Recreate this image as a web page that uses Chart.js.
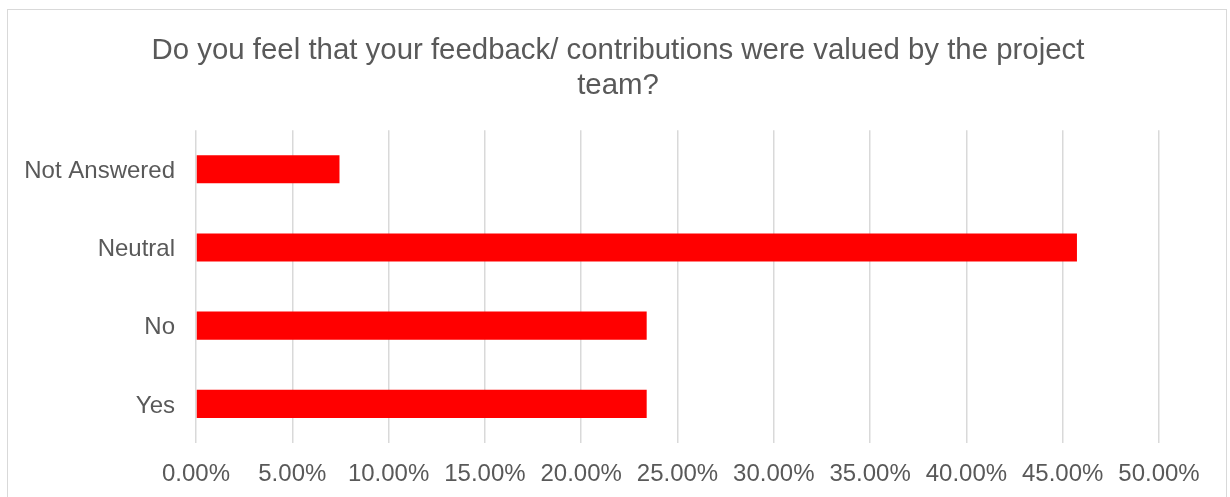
<!DOCTYPE html>
<html lang="en">
<head>
    <meta charset="UTF-8">
    <title>Feedback valued</title>
    <script src="https://cdn.jsdelivr.net/npm/chart.js@4.4.0/dist/chart.umd.min.js"></script>
    <style>
        body { margin: 0; background: #fff; }
        #wrap { position: relative; width: 1230px; height: 497px; }
        #frame {
            position: absolute; left: 7px; top: 9px; width: 1218px; height: 500px;
            border: 1.5px solid #d9d9d9; pointer-events: none;
        }
    </style>
</head>
<body>
    <div id="wrap">
        <canvas id="myChart" width="1230" height="497"></canvas>
        <div id="frame"></div>
    </div>

    <script>
        // chart data (Excel order: first category at the bottom)
        const categorias = ['Yes', 'No', 'Neutral', 'Not Answered'];
        const percentuais = [23.40, 23.40, 45.74, 7.45];
        const tituloLinhas = ['Do you feel that your feedback/ contributions were valued by the project', 'team?'];
        const xMin = 0, xMax = 50, xPasso = 5;

        const cinzaTexto = '#595959';
        const fonte = 'Liberation Sans, Arial, sans-serif';
        const ctx = document.getElementById('myChart').getContext('2d');

        new Chart(ctx, {
            type: 'bar',
            data: {
                labels: categorias,
                datasets: [{
                    data: percentuais,
                    backgroundColor: '#ff0000',
                    borderWidth: 0,
                    barPercentage: 0.45,
                    categoryPercentage: 0.8
                }]
            },
            options: {
                indexAxis: 'y',
                responsive: false,
                animation: false,
                layout: { padding: { left: 6, right: 0, top: 0, bottom: 0 } },
                plugins: {
                    legend: { display: false },
                    tooltip: { enabled: false },
                    title: {
                        display: true,
                        text: tituloLinhas,
                        color: cinzaTexto,
                        font: { family: fonte, size: 29.4, weight: 'normal', lineHeight: 1.2 },
                        padding: { top: 33, bottom: 26.6 }
                    }
                },
                scales: {
                    x: {
                        min: xMin,
                        max: xMax,
                        ticks: {
                            stepSize: xPasso,
                            color: cinzaTexto,
                            padding: 17,
                            font: { family: fonte, size: 24 },
                            callback: v => v.toFixed(2) + '%'
                        },
                        grid: { color: '#d9d9d9', lineWidth: 1.5, drawTicks: false },
                        border: { display: false },
                        afterFit: s => { s.height = 54; }
                    },
                    y: {
                        reverse: true,
                        ticks: {
                            color: cinzaTexto,
                            padding: 21,
                            labelOffset: 2,
                            font: { family: fonte, size: 24 }
                        },
                        grid: { display: false, drawTicks: false },
                        border: { display: false },
                        afterFit: s => { s.width = 190; }
                    },
                    // empty right-hand axis: only reserves the white margin so the title stays centred
                    yVazio: {
                        position: 'right',
                        ticks: { display: false },
                        grid: { display: false, drawTicks: false },
                        border: { display: false },
                        afterFit: s => { s.width = 71; }
                    }
                }
            }
        });
    </script>
</body>
</html>
